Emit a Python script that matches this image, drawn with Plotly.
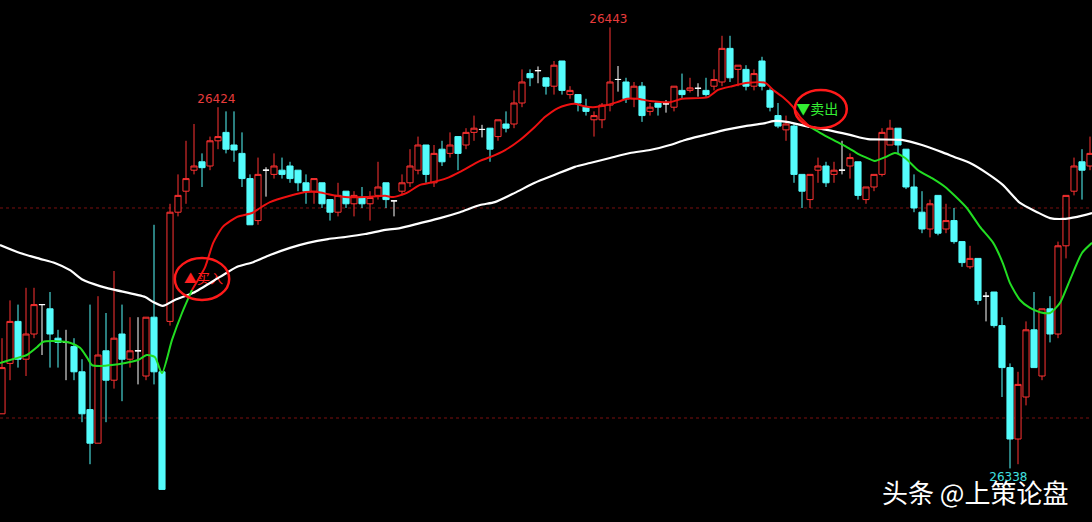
import plotly.graph_objects as go

# candles, one per bar (index 0..136)
opens = [
    26351, 26363, 26373, 26364, 26370, 26377, 26376, 26369, 26368, 26367,
    26361, 26352, 26344, 26366, 26359, 26370, 26364, 26366, 26360, 26374,
    26361, 26373, 26399, 26404, 26409, 26411, 26410, 26416, 26418, 26415,
    26413, 26407, 26397, 26409, 26408, 26409, 26410, 26409, 26406, 26404,
    26406, 26402, 26399, 26404, 26401, 26402.5, 26401, 26403, 26406, 26401.7,
    26404, 26406, 26409, 26415, 26406, 26414, 26413, 26417, 26415, 26418,
    26418.7, 26419, 26417, 26420, 26420, 26425, 26432, 26432.7, 26431, 26429,
    26435, 26427, 26427, 26424, 26421, 26421, 26424.5, 26430.6, 26430, 26426,
    26429, 26423, 26425, 26424.8, 26424, 26428, 26428, 26428.5, 26428, 26429,
    26430, 26438, 26433, 26433, 26429, 26435, 26428, 26422, 26418.6, 26419.5,
    26408, 26402, 26409, 26410, 26408, 26409, 26410, 26411, 26402, 26405,
    26408, 26415, 26419, 26414, 26405, 26399, 26395, 26403, 26395, 26397,
    26392, 26386, 26388, 26379, 26380, 26372, 26362, 26345, 26355, 26371,
    26360, 26376, 26370, 26391, 26404, 26411, 26410,
]
highs = [
    26369, 26378, 26377, 26381, 26381, 26377, 26380, 26371, 26371, 26369,
    26364, 26377, 26379, 26375, 26385, 26377, 26374, 26374, 26374, 26396,
    26361, 26401, 26408, 26416, 26420, 26413, 26417, 26424, 26423, 26423,
    26418, 26408, 26412, 26409.7, 26413, 26412, 26411, 26409, 26408, 26407,
    26406, 26402, 26406, 26404, 26404, 26405, 26404, 26411, 26406, 26401.7,
    26408, 26414, 26417, 26415, 26415, 26416, 26418, 26417, 26419, 26422,
    26419.8, 26419, 26421, 26423, 26428, 26433, 26433, 26433.7, 26431, 26435,
    26435, 26429, 26427, 26426, 26423, 26425, 26443, 26433.8, 26431, 26430,
    26430, 26425, 26425, 26425.7, 26429, 26432, 26431, 26429.7, 26431, 26433,
    26441, 26441, 26434, 26434, 26433, 26436, 26428.5, 26425, 26422, 26420,
    26408, 26408, 26412, 26411, 26411, 26416, 26413, 26411, 26405, 26408,
    26419, 26421, 26419, 26414, 26408, 26404, 26402, 26403, 26401, 26400,
    26392, 26391, 26388, 26380, 26380, 26374, 26363, 26361, 26373, 26380,
    26376, 26379, 26392, 26403, 26412, 26414, 26417,
]
lows = [
    26351, 26359, 26362, 26360, 26369, 26365, 26362, 26362, 26359, 26359,
    26349, 26339, 26344, 26349, 26357, 26354, 26362, 26358, 26359, 26358,
    26333, 26372, 26398, 26401, 26408, 26405, 26409, 26414, 26413, 26411,
    26405, 26396, 26396, 26402.7, 26407, 26407, 26406, 26404, 26401, 26401,
    26400, 26397, 26398, 26400, 26398, 26400, 26397, 26402, 26400, 26398,
    26403, 26405, 26408, 26406, 26405, 26410, 26412, 26409, 26414, 26416,
    26416.8, 26411, 26416, 26418, 26419, 26424, 26429, 26429.7, 26427, 26427,
    26427, 26426, 26423, 26422, 26417, 26419, 26423, 26427.7, 26425, 26424,
    26420.5, 26422, 26422, 26422.7, 26423, 26426, 26427.5, 26426.5, 26426.5, 26428,
    26429, 26430, 26429, 26428, 26428, 26428, 26423, 26419, 26416, 26406,
    26400, 26400, 26406, 26405, 26406, 26408, 26407, 26402, 26401, 26404,
    26407.5, 26415, 26413, 26404.5, 26399, 26394, 26393, 26393.5, 26394, 26391.5,
    26386, 26385.5, 26377, 26373, 26371.5, 26355, 26338, 26339, 26353, 26362,
    26359, 26368, 26369, 26388, 26403, 26402, 26409,
]
closes = [
    26362, 26373, 26364, 26370, 26377, 26377, 26370, 26368, 26368, 26361,
    26351, 26344, 26365, 26359, 26369, 26364, 26366, 26366, 26374, 26361,
    26333, 26399, 26403, 26407, 26410, 26409.6, 26416, 26417, 26414, 26413.8,
    26407, 26396, 26408, 26409, 26410, 26408, 26407, 26406, 26404, 26407,
    26401, 26399, 26403, 26401, 26403, 26401, 26402.5, 26405, 26402, 26401.7,
    26406, 26410, 26415, 26408, 26413, 26411, 26415, 26413, 26418, 26419,
    26418.7, 26414, 26421, 26419, 26425, 26430, 26431, 26432.7, 26429, 26434,
    26428, 26428, 26425, 26423, 26422, 26424.5, 26430, 26430.6, 26426, 26429,
    26422, 26424, 26424, 26424.8, 26429, 26427, 26428.6, 26428.5, 26427, 26430.6,
    26438, 26431, 26434, 26429, 26432, 26429, 26424, 26419.5, 26420, 26408,
    26404, 26408, 26410, 26406, 26409, 26409, 26412, 26403, 26405, 26408,
    26418, 26419, 26415, 26405, 26400, 26395, 26401, 26394, 26397, 26392,
    26387, 26388, 26378, 26379, 26372, 26362, 26345, 26358, 26371, 26362,
    26376, 26370, 26391, 26403, 26410, 26409, 26413,
]

# moving averages (bar index, price)
ma_slow_x = [-0.25, 2.25, 4.75, 6.6, 8.5, 10.1, 12.25, 14.1, 17.9, 18.9, 20.1, 21.6, 23.9,
             27.25, 29.4, 31.4, 33.5, 36, 38.25, 40.75, 42.9, 45.4, 47.9, 49.75, 52.25,
             54.75, 57.25, 59.75, 61.6, 64.1, 66.6, 69.1, 71.6, 73.5, 76, 78.5, 81, 83.5,
             85.4, 87.9, 90.4, 92.9, 95.4, 96.4, 98.1, 101, 103.1, 106, 108.25, 112.5,
             115, 117.5, 119.1, 121, 123.1, 125.1, 127.25, 129.4, 131, 132.6, 134.4, 136.25]
ma_slow_y = [26391.2, 26389.3, 26387.9, 26386.9, 26385.2, 26382.9, 26381.4, 26380.5, 26378.8,
             26377.6, 26376.7, 26378.1, 26379.8, 26383.6, 26386.0, 26387.1, 26388.8, 26390.5,
             26391.7, 26392.6, 26393.1, 26393.8, 26394.8, 26395.2, 26396.4, 26397.6, 26399.0,
             26400.7, 26401.4, 26403.6, 26406.0, 26407.9, 26409.8, 26410.7, 26411.9, 26413.1,
             26413.8, 26415.0, 26416.2, 26417.4, 26418.6, 26419.5, 26420.2, 26420.7, 26420.5,
             26419.3, 26418.6, 26417.4, 26416.4, 26416.2, 26415.0, 26413.3, 26412.1, 26410.7,
             26408.3, 26405.5, 26401.2, 26399.0, 26397.6, 26397.4, 26397.9, 26398.8]

ma_fast_x = [-0.25, 1, 2.25, 3.1, 4.4, 5.1, 7, 8.5, 9.75, 10.6, 11.25, 12.25, 13.75, 15.4, 17,
             18.1, 19.1, 20, 21.25, 22.5, 23.75, 25.4, 26.4, 27.6, 29.4, 31.25, 32.25, 33.5,
             36, 37.9, 39.5, 40.75, 42.9, 45.4, 47.9, 48.9, 50.6, 52.25, 53.5, 55.6, 57.25,
             59.75, 61, 62.9, 64.75, 66.6, 67.9, 69.5, 70.6, 71.6, 72.6, 73.9, 75.6, 76.9,
             78.1, 79.4, 81, 83.5, 85, 88.25, 89.5, 91.25, 93.25, 95.4, 96.4, 97.6, 98.9,
             99.75, 101, 102.25, 103.9, 105.6, 107, 107.9, 109.1, 110.4, 111.6, 112.9, 114.5,
             116.25, 117.9, 119.1, 120.6, 122.25, 123.9, 125.1, 126, 127.25, 128.5, 129.75,
             131, 132.25, 133.5, 135, 136.25]
ma_fast_y = [26363.1, 26363.8, 26364.5, 26365.0, 26366.9, 26368.1, 26368.3, 26367.9, 26366.7,
             26364.5, 26362.6, 26362.4, 26362.6, 26363.1, 26363.8, 26365.0, 26364.5, 26360.7,
             26368.6, 26375.0, 26380.5, 26386.0, 26391.7, 26395.5, 26397.9, 26398.8, 26400.0,
             26401.4, 26402.9, 26403.8, 26403.8, 26403.3, 26402.6, 26402.6, 26402.9, 26402.6,
             26403.6, 26405.5, 26406.0, 26407.1, 26408.6, 26411.2, 26412.1, 26413.8, 26416.2,
             26419.3, 26421.7, 26423.8, 26424.5, 26424.8, 26424.3, 26424.0, 26424.5, 26425.2,
             26426.0, 26426.0, 26425.5, 26425.2, 26426.0, 26426.4, 26428.1, 26429.0, 26429.8,
             26429.8, 26428.1, 26426.4, 26424.0, 26421.7, 26419.3, 26417.9, 26416.2, 26414.5,
             26412.9, 26412.1, 26411.2, 26412.1, 26413.1, 26411.9, 26409.0, 26407.1, 26405.0,
             26402.9, 26400.0, 26395.5, 26391.7, 26386.9, 26382.1, 26378.1, 26376.2, 26375.2,
             26375.0, 26377.4, 26382.9, 26389.3, 26391.7]

buy_at, sell_at = 23.75, 101  # bar index where fast MA changes colour

UP = "#ff3232"
DOWN = "#54fcfc"

idx = list(range(len(opens)))
body = [i for i in idx if opens[i] != closes[i]]
doji = [i for i in idx if opens[i] == closes[i]]

fig = go.Figure()

fig.add_trace(go.Candlestick(
    x=body,
    open=[opens[i] for i in body], high=[highs[i] for i in body],
    low=[lows[i] for i in body], close=[closes[i] for i in body],
    increasing=dict(line=dict(color=UP, width=1), fillcolor="black"),
    decreasing=dict(line=dict(color=DOWN, width=1), fillcolor=DOWN),
    hoverinfo="skip", showlegend=False,
))
fig.add_trace(go.Candlestick(
    x=doji,
    open=[opens[i] for i in doji], high=[highs[i] for i in doji],
    low=[lows[i] for i in doji], close=[closes[i] for i in doji],
    increasing=dict(line=dict(color="white", width=1), fillcolor="white"),
    decreasing=dict(line=dict(color="white", width=1), fillcolor="white"),
    hoverinfo="skip", showlegend=False,
))

# signal texts (under the MA lines, as in the original)
fig.add_trace(go.Scatter(
    x=[25.2, 101.9], y=[26382.9, 26423.3], mode="text",
    text=["▲买入", "▼卖出"],
    textfont=dict(color=["#ff2020", "#33ee33"], size=[13, 14], family="Noto Sans CJK SC"),
    hoverinfo="skip", showlegend=False,
))

fig.add_trace(go.Scatter(
    x=ma_slow_x, y=ma_slow_y, mode="lines",
    line=dict(color="white", width=2.2, shape="spline", smoothing=0.6),
    hoverinfo="skip", showlegend=False,
))

segments = [
    (lambda v: v <= buy_at, "#22dd22"),
    (lambda v: buy_at <= v <= sell_at, "#ee1111"),
    (lambda v: v >= sell_at, "#22dd22"),
]
for keep, color in segments:
    xs = [x for x in ma_fast_x if keep(x)]
    ys = [y for x, y in zip(ma_fast_x, ma_fast_y) if keep(x)]
    fig.add_trace(go.Scatter(
        x=xs, y=ys, mode="lines",
        line=dict(color=color, width=2, shape="spline", smoothing=0.6),
        hoverinfo="skip", showlegend=False,
    ))

# price extremes
fig.add_trace(go.Scatter(
    x=[26.8, 75.8, 125.8], y=[26425.7, 26444.8, 26335.7], mode="text",
    text=["26424", "26443", "26338"],
    textfont=dict(color=["#e83c3c", "#e83c3c", "#40e0e0"], size=12, family="DejaVu Sans"),
    hoverinfo="skip", showlegend=False,
))

for level in (26400, 26350):
    fig.add_shape(type="line", xref="paper", x0=0, x1=1, y0=level, y1=level,
                  line=dict(color="#7a1010", width=1, dash="3px,3px"), layer="below")

fig.add_shape(type="circle", x0=21.6, x1=28.4, y0=26378.1, y1=26388.1,
              line=dict(color="#ff1a1a", width=2.5))
fig.add_shape(type="circle", x0=99.1, x1=105.6, y0=26419.0, y1=26428.1,
              line=dict(color="#ff1a1a", width=2.5))

fig.add_annotation(
    text="头条 @上策论盘", xref="paper", yref="paper", x=0.893, y=0.058,
    xanchor="center", yanchor="middle", showarrow=False,
    font=dict(color="white", size=26, family="Noto Sans CJK SC"),
)

fig.update_layout(
    width=1092, height=522,
    margin=dict(l=0, r=0, t=0, b=0),
    paper_bgcolor="black", plot_bgcolor="black",
    showlegend=False, hovermode=False,
    boxgap=0.15, boxgroupgap=0.1,
    xaxis=dict(range=[-0.25, 136.25], visible=False, rangeslider=dict(visible=False)),
    yaxis=dict(range=[26325.24, 26449.52], visible=False),
)

fig.write_html(
    "out.html",
    config={"displayModeBar": False},
    post_script="document.body.style.margin='0';document.body.style.overflow='hidden';"
                "document.body.style.background='black';",
)
